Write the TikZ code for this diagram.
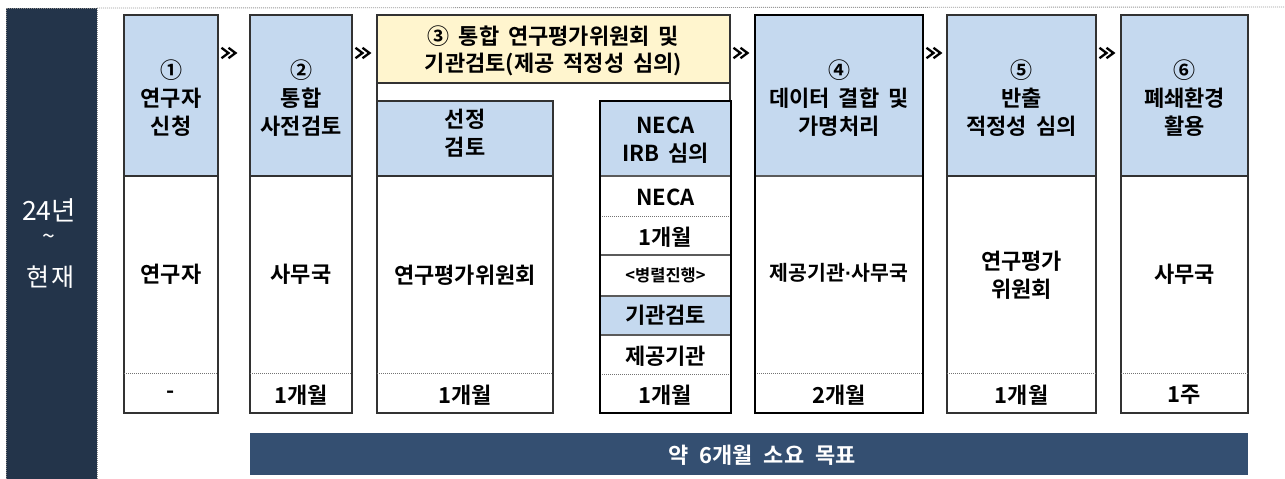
\documentclass[tikz,border=0pt]{standalone}
\usepackage{fontspec}
\setmainfont{Noto Sans CJK KR}[UprightFont=*, BoldFont=* Bold, WordSpace=1.8]
\newfontfamily\dotfont{Liberation Sans}[BoldFont=* Bold]
\usetikzlibrary{calc}
\definecolor{hdrc}{RGB}{197,217,239}
\definecolor{yelc}{RGB}{255,245,206}
\definecolor{sidec}{RGB}{35,52,74}
\definecolor{barc}{RGB}{52,79,113}
\definecolor{linec}{RGB}{50,50,50}
\tikzset{
  boxn/.style={draw=linec, line width=1.2pt, inner sep=0pt, outer sep=0pt, anchor=north west},
  boxk/.style={draw=black, line width=2.4pt, inner sep=0pt, outer sep=0pt, anchor=north west},
  fillonly/.style={inner sep=0pt, outer sep=0pt, anchor=north west},
  ttl/.style={font=\bfseries\fontsize{22}{28}\selectfont, align=center, inner sep=0pt},
  smalltxt/.style={font=\bfseries\fontsize{16.5}{18}\selectfont, align=center, inner sep=0pt},
  dotl/.style={draw=black!55, line width=0.9pt, dash pattern=on 1pt off 1pt},
  sepl/.style={draw=linec!80, line width=1.1pt},
  sidetxt/.style={font=\fontsize{25}{26}\selectfont, text=white, inner sep=0pt},
  chevs/.pic={
    \draw[line width=2.3pt, miter limit=4] (0,-5.2) -- (7,0) -- (0,5.2);
    \draw[line width=2.3pt, miter limit=4] (7,-5.2) -- (14,0) -- (7,5.2);
  },
}
\begin{document}
\begin{tikzpicture}[x=1pt,y=-1pt]
\useasboundingbox (0,0) rectangle (1285,479);
\fill[white] (0,0) rectangle (1285,479);

% side bar
\node[fillonly, fill=sidec, draw=black!45, line width=0.8pt, dash pattern=on 1pt off 1pt,
      minimum width=91, minimum height=480] (side) at (6,8) {};
\coordinate (topend) at (1285,7);
\draw[dotl, draw=black!40] (side.north east) -- (topend);
\node[sidetxt, font=\fontsize{26.5}{27}\selectfont] (yr) at (49,210) {24년};
\node[sidetxt, font=\fontsize{23}{23}\selectfont] (tilde) at (49,239) {\textasciitilde};
\node[sidetxt] (now) at (50,277) {현\hspace{2pt}재};

% column 1
\node[boxn, fill=hdrc, minimum width=94, minimum height=161] (h1) at (124,15) {};
\node[boxn, minimum width=94, minimum height=237] (b1) at (124,176) {};
\draw[dotl] (124,373) -- (218,373);
\node[ttl] (t1) at (171,98) {①\\연구자\\신청};
\node[ttl] (p1) at (171,274) {연구자};
\node[ttl] (d1) at (171,395) {-};

% column 2
\node[boxn, fill=hdrc, minimum width=102, minimum height=161] (h2) at (250,15) {};
\node[boxn, minimum width=102, minimum height=237] (b2) at (250,176) {};
\draw[dotl] (250,373) -- (352,373);
\node[ttl] (t2) at (301,98) {②\\통합\\사전검토};
\node[ttl] (p2) at (301,274) {사무국};
\node[ttl] (d2) at (301,395) {1개월};

% column 3 header (yellow)
\node[boxn, fill=yelc, minimum width=353, minimum height=68] (h3) at (377,15) {};
\draw[boxn] (h3.south west) -- ++(0,18) coordinate (h3l);
\draw[boxn] (h3.south east) -- ++(0,18) coordinate (h3r);
\node[ttl, font=\bfseries\fontsize{22}{27}\selectfont] (t3) at (553.5,51) {③ 통합 연구평가위원회 및\\기관검토(제공 적정성 심의)};

% 선정 검토
\node[boxn, fill=hdrc, minimum width=176, minimum height=75] (h3a) at (377,101) {};
\node[boxn, minimum width=176, minimum height=237] (b3a) at (377,176) {};
\draw[dotl] (377,373) -- (553,373);
\node[ttl] (t3a) at (465,133) {선정\\검토};
\node[ttl] (p3a) at (465,275) {연구평가위원회};
\node[ttl] (d3a) at (465,395) {1개월};

% NECA column
\node[fillonly, fill=hdrc, minimum width=131, minimum height=75] (h3b) at (600,101) {};
\node[fillonly, fill=hdrc, minimum width=131, minimum height=39] (r3b) at (600,296) {};
\draw[sepl] (h3b.south west) -- (h3b.south east);
\draw[dotl] (600,216) -- (731,216);
\draw[sepl] (600,255) -- (731,255);
\draw[sepl] (r3b.north west) -- (r3b.north east);
\draw[sepl] (r3b.south west) -- (r3b.south east);
\draw[dotl] (600,374) -- (731,374);
\node[boxk, minimum width=131, minimum height=312] (f3b) at (600,101) {};
\node[ttl] (t3b) at (665.5,140) {NECA\\IRB 심의};
\node[ttl] (n1) at (665.5,197) {NECA};
\node[ttl] (n2) at (665.5,237) {1개월};
\node[smalltxt] (n3) at (665.5,275) {<병렬진행>};
\node[ttl] (n4) at (665.5,315) {기관검토};
\node[ttl] (n5) at (665.5,356) {제공기관};
\node[ttl] (n6) at (665.5,395) {1개월};

% column 4 (thick)
\node[fillonly, fill=hdrc, minimum width=168, minimum height=161] (h4) at (755,15) {};
\draw[sepl] (h4.south west) -- (h4.south east);
\draw[dotl] (755,373) -- (923,373);
\node[boxk, minimum width=168, minimum height=398] (f4) at (755,15) {};
\node[ttl] (t4) at (839,98) {④\\데이터 결합 및\\가명처리};
\node[ttl, font=\bfseries\fontsize{20.5}{28}\selectfont] (p4) at (839,273) {제공기관{\dotfont\bfseries ·}사무국};
\node[ttl] (d4) at (839,395) {2개월};

% column 5
\node[boxn, fill=hdrc, minimum width=149, minimum height=161] (h5) at (947,15) {};
\node[boxn, minimum width=149, minimum height=237] (b5) at (947,176) {};
\draw[dotl] (947,373) -- (1096,373);
\node[ttl] (t5) at (1021.5,98) {⑤\\반출\\적정성 심의};
\node[ttl] (p5) at (1021.5,275) {연구평가\\위원회};
\node[ttl] (d5) at (1021.5,395) {1개월};

% column 6
\node[boxn, fill=hdrc, minimum width=127, minimum height=161] (h6) at (1121,15) {};
\node[boxn, minimum width=127, minimum height=237] (b6) at (1121,176) {};
\draw[dotl] (1121,373) -- (1248,373);
\node[ttl] (t6) at (1184.5,98) {⑥\\폐쇄환경\\활용};
\node[ttl] (p6) at (1184.5,274) {사무국};
\node[ttl] (d6) at (1184.5,395) {1주};

% >> markers
\pic at ($(h1.north east)+(3.5,38)$) {chevs};
\pic at ($(h2.north east)+(3.5,38)$) {chevs};
\pic at ($(h3.north east)+(3.5,38)$) {chevs};
\pic at ($(h4.north east)+(3.5,38)$) {chevs};
\pic at ($(h5.north east)+(3.5,38)$) {chevs};

% bottom bar
\node[fillonly, fill=barc, minimum width=998, minimum height=42] (bar) at (250,433) {};
\node[font=\bfseries\fontsize{22}{24}\selectfont, text=white, inner sep=0pt] (bartxt) at (762,455)
  {약\hspace{11pt}6개월\hspace{11pt}소요\hspace{11pt}목표};
\end{tikzpicture}
\end{document}
